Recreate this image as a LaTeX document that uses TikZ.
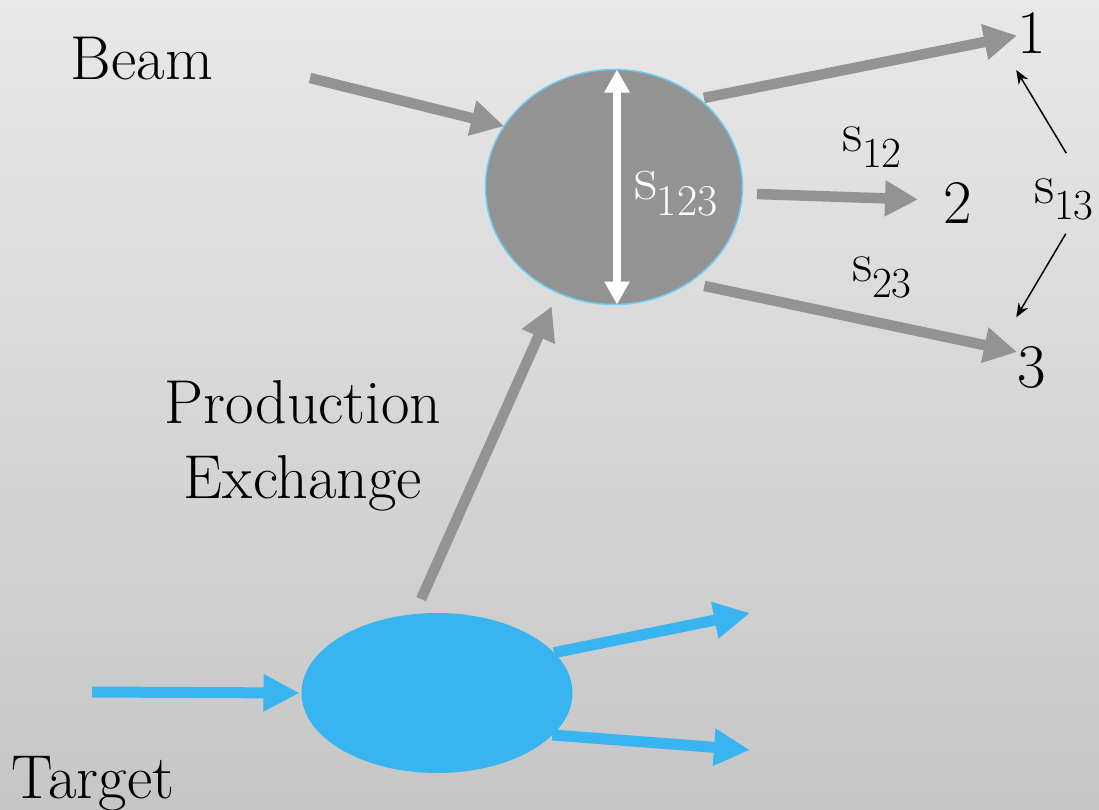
\documentclass[tikz,border=0pt]{standalone}
\usepackage{fontspec}
\usetikzlibrary{arrows.meta,shapes.geometric}
\definecolor{bgtop}{RGB}{232,232,232}
\definecolor{bgbot}{RGB}{198,198,198}
\definecolor{arrgray}{RGB}{147,147,147}
\definecolor{tblue}{RGB}{56,180,241}
\definecolor{rimblue}{RGB}{110,205,245}
\newcommand\tsz[1]{\fontsize{#1}{#1}\selectfont}
\newcommand\mylab[3]{{\tsz{#1}s}\raisebox{-16pt}{\tsz{#2}#3}}
\begin{document}
\begin{tikzpicture}[x=1pt,y=1pt,
  garrow/.style={draw=arrgray, line width=10.5pt, -{Triangle[length=33pt,width=34pt]}},
  barrow/.style={draw=tblue, line width=11pt, -{Triangle[length=36pt,width=35pt]}},
  thinarrow/.style={draw=black, line width=1.5pt, -{Stealth[length=14pt,width=11pt]}},
  lbl/.style={inner sep=0pt, outer sep=0pt, anchor=base west},
  ctext/.style={inner sep=0pt, outer sep=0pt, anchor=base}]
\useasboundingbox (0,0) rectangle (1099,-809);
\shade[top color=bgtop, bottom color=bgbot] (0,0) rectangle (1099,-809);

% ellipses
\node[ellipse, minimum width=257pt, minimum height=235pt, inner sep=0pt, outer sep=0pt,
      fill=arrgray, draw=rimblue, line width=1.5pt] (big) at (614,-187) {};
\node[ellipse, minimum width=271pt, minimum height=160pt, inner sep=0pt, outer sep=0pt,
      fill=tblue] (blue) at (437,-693) {};

% texts
\node[ctext] (beam) at (142,-79) {\tsz{62}Beam};
\node[ctext] (prod) at (303,-423) {\tsz{62}Production};
\node[ctext] (exch) at (303,-498) {\tsz{62}Exchange};
\node[ctext] (target) at (93,-798) {\tsz{62}Target};
\node[lbl] (n1) at (1017,-53) {\tsz{62}1};
\node[lbl] (n2) at (943,-223) {\tsz{62}2};
\node[lbl] (n3) at (1017,-387) {\tsz{62}3};
\node[lbl] (s12) at (842,-151) {\mylab{56}{43}{12}};
\node[lbl] (s23) at (852,-281) {\mylab{56}{43}{23}};
\node[lbl] (s13) at (1034,-203) {\mylab{56}{43}{13}};
\node[lbl, text=white] (s123) at (634,-199) {\mylab{64}{44}{123}};

% white double arrow
\draw[white, line width=8pt, {Triangle[length=23pt,width=24pt]}-{Triangle[length=23pt,width=24pt]}]
  ([xshift=3pt]big.north) -- ([xshift=3pt]big.south);

% gray arrows
\coordinate (beamtail) at (310,-78);
\draw[garrow] (beamtail) -- (big.151);
\draw[garrow, shorten <=5pt] (big.46.7) -- ([yshift=-3pt]n1.west);
\coordinate (t2) at (757,-194);
\draw[garrow] (t2) -- ([shift={(-25pt,3pt)}]n2.west);
\draw[garrow, shorten <=16pt] (big.-52.9) -- ([yshift=15pt]n3.west);
\draw[garrow, shorten <=16.5pt, shorten >=15pt] (blue.106) -- (big.-118.4);

% blue arrows
\coordinate (btail) at (92,-692);
\coordinate (bo1) at (750,-613);
\coordinate (bo2) at (750,-750);
\draw[barrow] (btail) -- ([xshift=-2pt]blue.west);
\draw[barrow] (blue.19.5) -- (bo1);
\draw[barrow] (blue.-20.1) -- (bo2);

% thin arrows
\draw[thinarrow] ([shift={(2.5pt,25pt)}]s13.north) -- ([shift={(-15pt,-17pt)}]n1.south);
\draw[thinarrow] ([shift={(2pt,-14pt)}]s13.south) -- ([shift={(-15pt,28.7pt)}]n3.north);
\end{tikzpicture}
\end{document}
